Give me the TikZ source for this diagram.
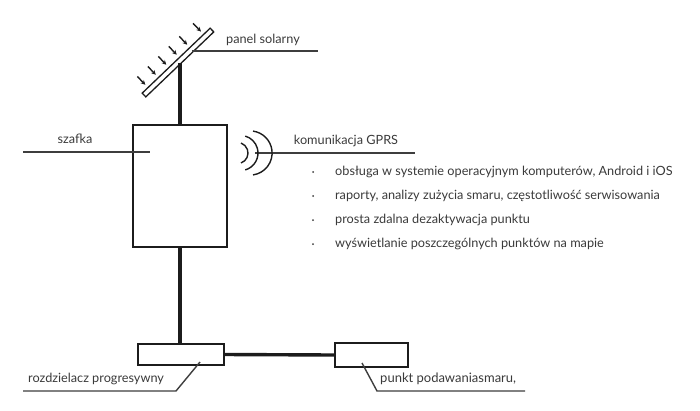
\documentclass[tikz,border=0pt]{standalone}
\usepackage{fontspec}
\setmainfont{Lato}
\usetikzlibrary{arrows.meta,calc}
\definecolor{txt}{HTML}{3A3A3A}
\definecolor{ln}{HTML}{1C1C1C}
\begin{document}
\begin{tikzpicture}[x=1pt,y=-1pt,
  lbl/.style={font=\fontsize{12.7}{15}\selectfont, text=txt, inner sep=0pt},
  boxline/.style={draw=ln, line width=2.4pt, fill=white},
  pipe/.style={draw=ln, line width=3.4pt},
  leader/.style={draw=ln!85!white, line width=1.4pt},
  ray/.style={draw=ln, line width=1.4pt, -{Stealth[length=4.5pt,width=4.5pt]}},
  wave/.style={draw=ln, line width=1.4pt},
  bul/.style={circle, fill=txt, inner sep=0pt, minimum size=2pt}]
\useasboundingbox (0,0) rectangle (700,410);

% boxes
\node[boxline, minimum width=94pt, minimum height=122pt, inner sep=0pt] (szafka) at (180,186) {};
\node[boxline, minimum width=86pt, minimum height=21pt, inner sep=0pt] (rozdz) at (181,354.5) {};
\node[boxline, minimum width=73pt, minimum height=24pt, inner sep=0pt] (punkt) at (371.5,355) {};

% solar panel
\begin{scope}[shift={(144,95)}, rotate=43.7]
  \draw[draw=ln, line width=1.3pt, fill=white] (0,-2.6) rectangle (94,2.6);
  \coordinate (panelbase) at (49,2.6);
  \coordinate (panelr) at (67,0);
  \foreach \s in {8,22.5,37,51.5,66,85} {
    \draw[ray] (\s,-18) -- (\s,-6.5);
  }
\end{scope}

% pipes
\draw[pipe] (szafka.north) -- (szafka.north |- panelbase);
\draw[pipe] (szafka.south) -- (rozdz.north -| szafka.south);
\draw[pipe] (rozdz.east) -- (punkt.west);

% labels
\coordinate (pl1) at (318,51);
\draw[leader] (panelr |- pl1) -- (pl1);
\node[lbl] (tpanel) at (263,40) {panel solarny};

\coordinate (sz1) at (23,152);
\coordinate (sz2) at (150,152);
\draw[leader] (sz1) -- (sz2);
\node[lbl] (tszafka) at (75,139) {szafka};

\coordinate (ro1) at (200,362);
\coordinate (ro2) at (176,391);
\coordinate (ro3) at (23,391);
\draw[leader] (ro1) -- (ro2) -- (ro3);
\node[lbl, anchor=west] (troz) at (28,379) {rozdzielacz progresywny};

\coordinate (pu1) at (362,363);
\coordinate (pu2) at (377,391);
\coordinate (pu3) at (525,391);
\draw[leader] (pu1) -- (pu2) -- (pu3);
\node[lbl, anchor=west, font=\fontsize{13}{15}\selectfont] (tpunkt) at (380,379) {punkt podawaniasmaru,};

% GPRS waves
\coordinate (g1) at (255,153);
\coordinate (g2) at (415,153);
\draw[leader] (g1) -- (g2);
\coordinate (w1) at (237.4,153);
\coordinate (w2) at (240.4,153);
\coordinate (w3) at (250,153);
\draw[wave] ($(w1)+(70:10.6)$) arc[start angle=-70, end angle=70, radius=10.6pt];
\draw[wave] ($(w2)+(74:17.6)$) arc[start angle=-74, end angle=74, radius=17.6pt];
\draw[wave] ($(w3)+(82:22.1)$) arc[start angle=-82, end angle=82, radius=22.1pt];
\node[lbl] (tgprs) at (346,141) {komunikacja GPRS};

% bullets
\foreach \y/\t [count=\i] in {172/{obsługa w systemie operacyjnym komputerów, Android i iOS},
  196/{raporty, analizy zużycia smaru, częstotliwość serwisowania},
  220/{prosta zdalna dezaktywacja punktu},
  244/{wyświetlanie poszczególnych punktów na mapie}} {
  \node[bul] (b\i) at (313,\y) {};
  \node[lbl, anchor=west] (t\i) at (335,\y) {\t};
}
\end{tikzpicture}
\end{document}
